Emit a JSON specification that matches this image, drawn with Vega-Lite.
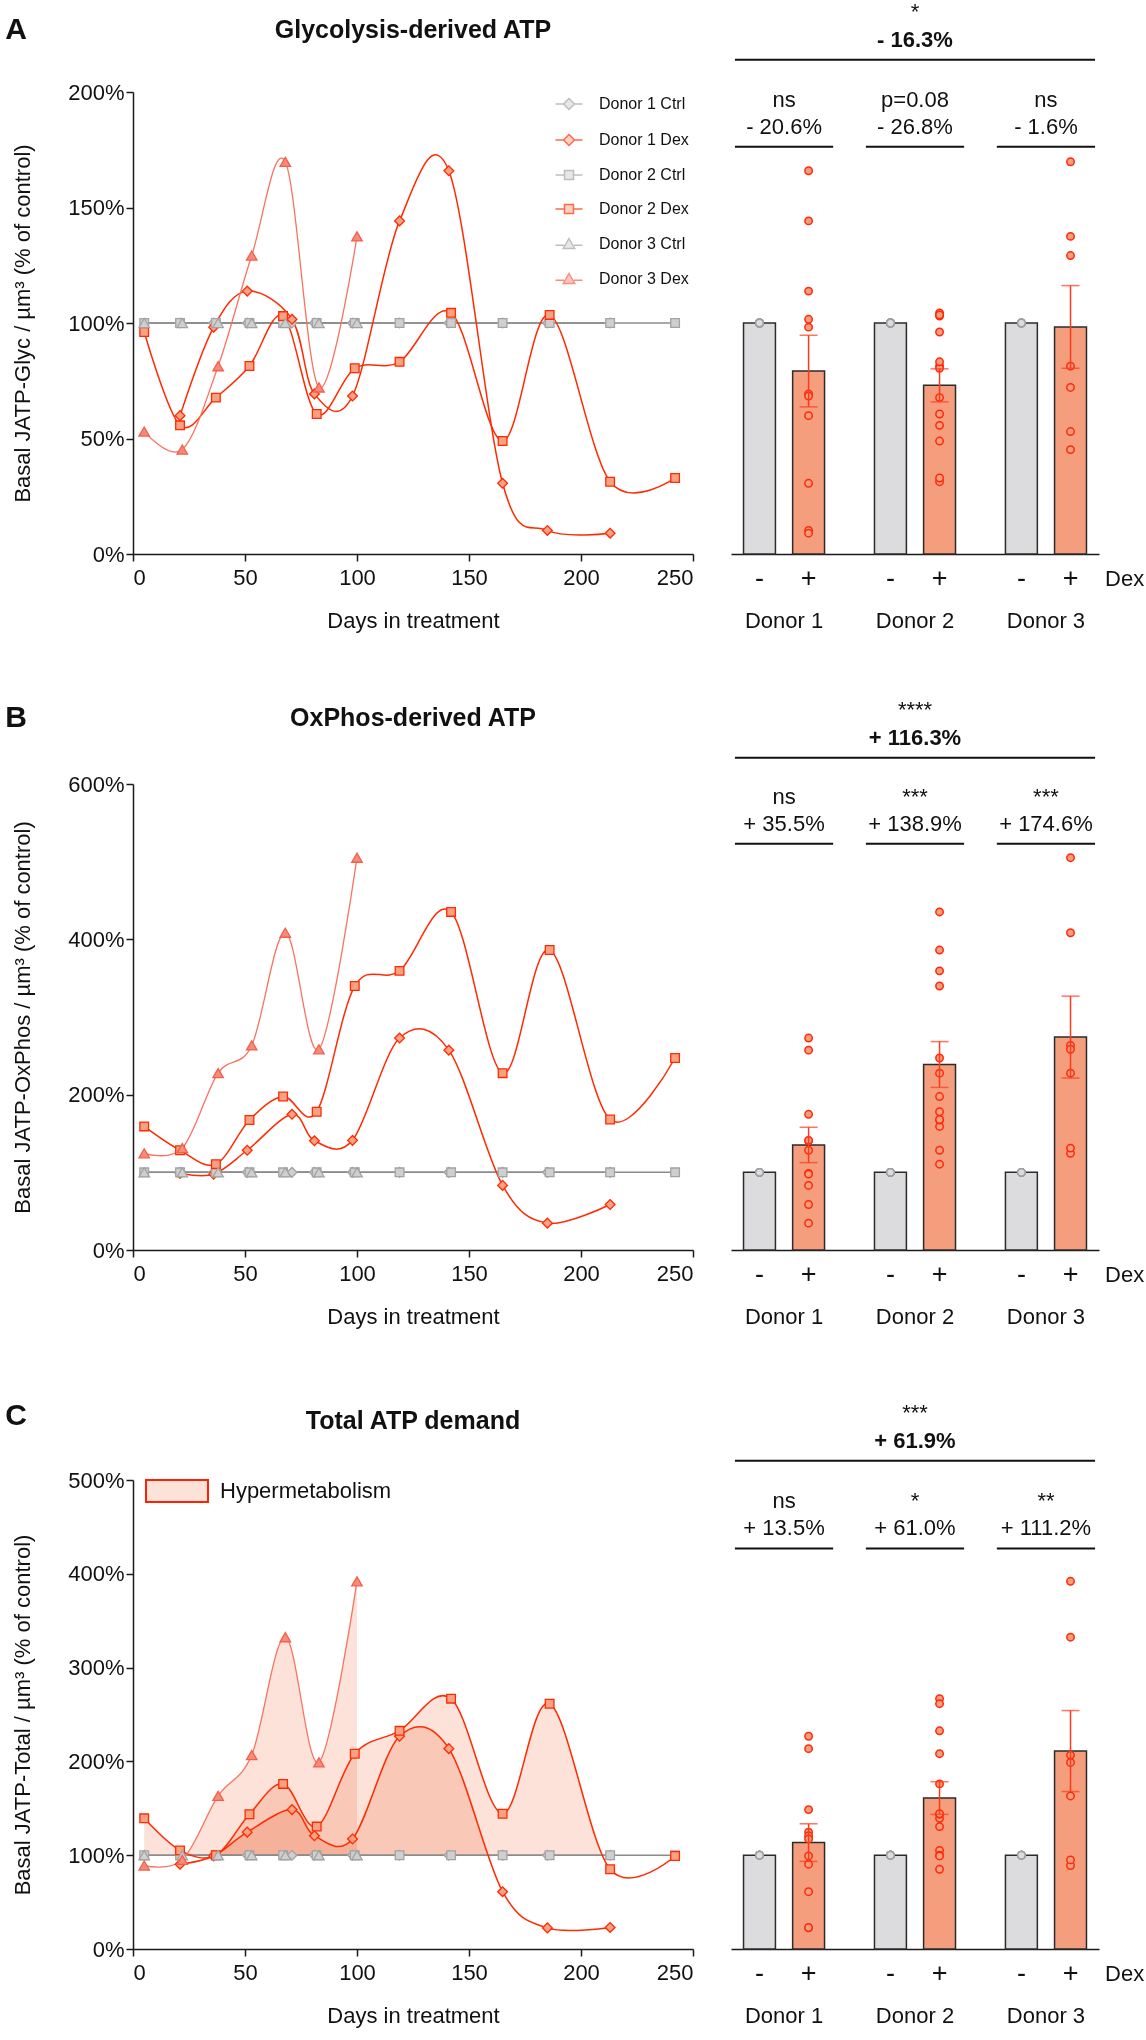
{
 "$schema": "https://vega.github.io/schema/vega-lite/v6.json",
 "background": "white",
 "padding": {"left": 5, "top": 0, "right": 0, "bottom": 5},
 "config": {
  "font": "Liberation Sans",
  "view": {"stroke": null},
  "axis": {"grid": false, "zindex": 1, "domainColor": "#1a1a1a", "domainWidth": 1.5, "tickColor": "#1a1a1a", "tickWidth": 1.5, "tickSize": 7, "labelFontSize": 22, "labelColor": "#111", "titleFontSize": 22, "titleFontWeight": "normal", "titleColor": "#111"},
  "text": {"color": "#111"},
  "legend": {"labelColor": "#111", "labelLimit": 400}
 },
 "datasets": {
  "pts": [
   {"p":"A","donor":"Donor 1","treat":"Ctrl","series":"Donor 1 Ctrl","day":21,"value":100},
   {"p":"A","donor":"Donor 1","treat":"Ctrl","series":"Donor 1 Ctrl","day":36,"value":100},
   {"p":"A","donor":"Donor 1","treat":"Ctrl","series":"Donor 1 Ctrl","day":51,"value":100},
   {"p":"A","donor":"Donor 1","treat":"Ctrl","series":"Donor 1 Ctrl","day":71,"value":100},
   {"p":"A","donor":"Donor 1","treat":"Ctrl","series":"Donor 1 Ctrl","day":81,"value":100},
   {"p":"A","donor":"Donor 1","treat":"Ctrl","series":"Donor 1 Ctrl","day":98,"value":100},
   {"p":"A","donor":"Donor 1","treat":"Ctrl","series":"Donor 1 Ctrl","day":119,"value":100},
   {"p":"A","donor":"Donor 1","treat":"Ctrl","series":"Donor 1 Ctrl","day":141,"value":100},
   {"p":"A","donor":"Donor 1","treat":"Ctrl","series":"Donor 1 Ctrl","day":165,"value":100},
   {"p":"A","donor":"Donor 1","treat":"Ctrl","series":"Donor 1 Ctrl","day":185,"value":100},
   {"p":"A","donor":"Donor 1","treat":"Ctrl","series":"Donor 1 Ctrl","day":213,"value":100},
   {"p":"A","donor":"Donor 2","treat":"Ctrl","series":"Donor 2 Ctrl","day":5,"value":100},
   {"p":"A","donor":"Donor 2","treat":"Ctrl","series":"Donor 2 Ctrl","day":21,"value":100},
   {"p":"A","donor":"Donor 2","treat":"Ctrl","series":"Donor 2 Ctrl","day":37,"value":100},
   {"p":"A","donor":"Donor 2","treat":"Ctrl","series":"Donor 2 Ctrl","day":52,"value":100},
   {"p":"A","donor":"Donor 2","treat":"Ctrl","series":"Donor 2 Ctrl","day":67,"value":100},
   {"p":"A","donor":"Donor 2","treat":"Ctrl","series":"Donor 2 Ctrl","day":82,"value":100},
   {"p":"A","donor":"Donor 2","treat":"Ctrl","series":"Donor 2 Ctrl","day":99,"value":100},
   {"p":"A","donor":"Donor 2","treat":"Ctrl","series":"Donor 2 Ctrl","day":119,"value":100},
   {"p":"A","donor":"Donor 2","treat":"Ctrl","series":"Donor 2 Ctrl","day":142,"value":100},
   {"p":"A","donor":"Donor 2","treat":"Ctrl","series":"Donor 2 Ctrl","day":165,"value":100},
   {"p":"A","donor":"Donor 2","treat":"Ctrl","series":"Donor 2 Ctrl","day":186,"value":100},
   {"p":"A","donor":"Donor 2","treat":"Ctrl","series":"Donor 2 Ctrl","day":213,"value":100},
   {"p":"A","donor":"Donor 2","treat":"Ctrl","series":"Donor 2 Ctrl","day":242,"value":100},
   {"p":"A","donor":"Donor 3","treat":"Ctrl","series":"Donor 3 Ctrl","day":5,"value":100},
   {"p":"A","donor":"Donor 3","treat":"Ctrl","series":"Donor 3 Ctrl","day":22,"value":100},
   {"p":"A","donor":"Donor 3","treat":"Ctrl","series":"Donor 3 Ctrl","day":38,"value":100},
   {"p":"A","donor":"Donor 3","treat":"Ctrl","series":"Donor 3 Ctrl","day":53,"value":100},
   {"p":"A","donor":"Donor 3","treat":"Ctrl","series":"Donor 3 Ctrl","day":68,"value":100},
   {"p":"A","donor":"Donor 3","treat":"Ctrl","series":"Donor 3 Ctrl","day":83,"value":100},
   {"p":"A","donor":"Donor 3","treat":"Ctrl","series":"Donor 3 Ctrl","day":100,"value":100},
   {"p":"A","donor":"Donor 1","treat":"Dex","series":"Donor 1 Dex","day":21,"value":59.9},
   {"p":"A","donor":"Donor 1","treat":"Dex","series":"Donor 1 Dex","day":36,"value":98.2},
   {"p":"A","donor":"Donor 1","treat":"Dex","series":"Donor 1 Dex","day":51,"value":113.8},
   {"p":"A","donor":"Donor 1","treat":"Dex","series":"Donor 1 Dex","day":71,"value":101.6},
   {"p":"A","donor":"Donor 1","treat":"Dex","series":"Donor 1 Dex","day":81,"value":69.3},
   {"p":"A","donor":"Donor 1","treat":"Dex","series":"Donor 1 Dex","day":98,"value":68.4},
   {"p":"A","donor":"Donor 1","treat":"Dex","series":"Donor 1 Dex","day":119,"value":144.2},
   {"p":"A","donor":"Donor 1","treat":"Dex","series":"Donor 1 Dex","day":141,"value":165.9},
   {"p":"A","donor":"Donor 1","treat":"Dex","series":"Donor 1 Dex","day":165,"value":30.6},
   {"p":"A","donor":"Donor 1","treat":"Dex","series":"Donor 1 Dex","day":185,"value":10.2},
   {"p":"A","donor":"Donor 1","treat":"Dex","series":"Donor 1 Dex","day":213,"value":9.0},
   {"p":"A","donor":"Donor 2","treat":"Dex","series":"Donor 2 Dex","day":5,"value":96.1},
   {"p":"A","donor":"Donor 2","treat":"Dex","series":"Donor 2 Dex","day":21,"value":55.7},
   {"p":"A","donor":"Donor 2","treat":"Dex","series":"Donor 2 Dex","day":37,"value":67.7},
   {"p":"A","donor":"Donor 2","treat":"Dex","series":"Donor 2 Dex","day":52,"value":81.4},
   {"p":"A","donor":"Donor 2","treat":"Dex","series":"Donor 2 Dex","day":67,"value":103},
   {"p":"A","donor":"Donor 2","treat":"Dex","series":"Donor 2 Dex","day":82,"value":60.6},
   {"p":"A","donor":"Donor 2","treat":"Dex","series":"Donor 2 Dex","day":99,"value":80.4},
   {"p":"A","donor":"Donor 2","treat":"Dex","series":"Donor 2 Dex","day":119,"value":83.2},
   {"p":"A","donor":"Donor 2","treat":"Dex","series":"Donor 2 Dex","day":142,"value":104.4},
   {"p":"A","donor":"Donor 2","treat":"Dex","series":"Donor 2 Dex","day":165,"value":48.9},
   {"p":"A","donor":"Donor 2","treat":"Dex","series":"Donor 2 Dex","day":186,"value":103.5},
   {"p":"A","donor":"Donor 2","treat":"Dex","series":"Donor 2 Dex","day":213,"value":31.3},
   {"p":"A","donor":"Donor 2","treat":"Dex","series":"Donor 2 Dex","day":242,"value":32.9},
   {"p":"A","donor":"Donor 3","treat":"Dex","series":"Donor 3 Dex","day":5,"value":53},
   {"p":"A","donor":"Donor 3","treat":"Dex","series":"Donor 3 Dex","day":22,"value":45.2},
   {"p":"A","donor":"Donor 3","treat":"Dex","series":"Donor 3 Dex","day":38,"value":81.3},
   {"p":"A","donor":"Donor 3","treat":"Dex","series":"Donor 3 Dex","day":53,"value":129.2},
   {"p":"A","donor":"Donor 3","treat":"Dex","series":"Donor 3 Dex","day":68,"value":169.8},
   {"p":"A","donor":"Donor 3","treat":"Dex","series":"Donor 3 Dex","day":83,"value":72.1},
   {"p":"A","donor":"Donor 3","treat":"Dex","series":"Donor 3 Dex","day":100,"value":137.5},

   {"p":"B","donor":"Donor 1","treat":"Ctrl","series":"Donor 1 Ctrl","day":21,"value":100},
   {"p":"B","donor":"Donor 1","treat":"Ctrl","series":"Donor 1 Ctrl","day":36,"value":100},
   {"p":"B","donor":"Donor 1","treat":"Ctrl","series":"Donor 1 Ctrl","day":51,"value":100},
   {"p":"B","donor":"Donor 1","treat":"Ctrl","series":"Donor 1 Ctrl","day":71,"value":100},
   {"p":"B","donor":"Donor 1","treat":"Ctrl","series":"Donor 1 Ctrl","day":81,"value":100},
   {"p":"B","donor":"Donor 1","treat":"Ctrl","series":"Donor 1 Ctrl","day":98,"value":100},
   {"p":"B","donor":"Donor 1","treat":"Ctrl","series":"Donor 1 Ctrl","day":119,"value":100},
   {"p":"B","donor":"Donor 1","treat":"Ctrl","series":"Donor 1 Ctrl","day":141,"value":100},
   {"p":"B","donor":"Donor 1","treat":"Ctrl","series":"Donor 1 Ctrl","day":165,"value":100},
   {"p":"B","donor":"Donor 1","treat":"Ctrl","series":"Donor 1 Ctrl","day":185,"value":100},
   {"p":"B","donor":"Donor 1","treat":"Ctrl","series":"Donor 1 Ctrl","day":213,"value":100},
   {"p":"B","donor":"Donor 2","treat":"Ctrl","series":"Donor 2 Ctrl","day":5,"value":100},
   {"p":"B","donor":"Donor 2","treat":"Ctrl","series":"Donor 2 Ctrl","day":21,"value":100},
   {"p":"B","donor":"Donor 2","treat":"Ctrl","series":"Donor 2 Ctrl","day":37,"value":100},
   {"p":"B","donor":"Donor 2","treat":"Ctrl","series":"Donor 2 Ctrl","day":52,"value":100},
   {"p":"B","donor":"Donor 2","treat":"Ctrl","series":"Donor 2 Ctrl","day":67,"value":100},
   {"p":"B","donor":"Donor 2","treat":"Ctrl","series":"Donor 2 Ctrl","day":82,"value":100},
   {"p":"B","donor":"Donor 2","treat":"Ctrl","series":"Donor 2 Ctrl","day":99,"value":100},
   {"p":"B","donor":"Donor 2","treat":"Ctrl","series":"Donor 2 Ctrl","day":119,"value":100},
   {"p":"B","donor":"Donor 2","treat":"Ctrl","series":"Donor 2 Ctrl","day":142,"value":100},
   {"p":"B","donor":"Donor 2","treat":"Ctrl","series":"Donor 2 Ctrl","day":165,"value":100},
   {"p":"B","donor":"Donor 2","treat":"Ctrl","series":"Donor 2 Ctrl","day":186,"value":100},
   {"p":"B","donor":"Donor 2","treat":"Ctrl","series":"Donor 2 Ctrl","day":213,"value":100},
   {"p":"B","donor":"Donor 2","treat":"Ctrl","series":"Donor 2 Ctrl","day":242,"value":100},
   {"p":"B","donor":"Donor 3","treat":"Ctrl","series":"Donor 3 Ctrl","day":5,"value":100},
   {"p":"B","donor":"Donor 3","treat":"Ctrl","series":"Donor 3 Ctrl","day":22,"value":100},
   {"p":"B","donor":"Donor 3","treat":"Ctrl","series":"Donor 3 Ctrl","day":38,"value":100},
   {"p":"B","donor":"Donor 3","treat":"Ctrl","series":"Donor 3 Ctrl","day":53,"value":100},
   {"p":"B","donor":"Donor 3","treat":"Ctrl","series":"Donor 3 Ctrl","day":68,"value":100},
   {"p":"B","donor":"Donor 3","treat":"Ctrl","series":"Donor 3 Ctrl","day":83,"value":100},
   {"p":"B","donor":"Donor 3","treat":"Ctrl","series":"Donor 3 Ctrl","day":100,"value":100},
   {"p":"B","donor":"Donor 1","treat":"Dex","series":"Donor 1 Dex","day":21,"value":98.7},
   {"p":"B","donor":"Donor 1","treat":"Dex","series":"Donor 1 Dex","day":36,"value":97.7},
   {"p":"B","donor":"Donor 1","treat":"Dex","series":"Donor 1 Dex","day":51,"value":128.4},
   {"p":"B","donor":"Donor 1","treat":"Dex","series":"Donor 1 Dex","day":71,"value":174.7},
   {"p":"B","donor":"Donor 1","treat":"Dex","series":"Donor 1 Dex","day":81,"value":140.6},
   {"p":"B","donor":"Donor 1","treat":"Dex","series":"Donor 1 Dex","day":98,"value":141.2},
   {"p":"B","donor":"Donor 1","treat":"Dex","series":"Donor 1 Dex","day":119,"value":272.9},
   {"p":"B","donor":"Donor 1","treat":"Dex","series":"Donor 1 Dex","day":141,"value":257.3},
   {"p":"B","donor":"Donor 1","treat":"Dex","series":"Donor 1 Dex","day":165,"value":83.2},
   {"p":"B","donor":"Donor 1","treat":"Dex","series":"Donor 1 Dex","day":185,"value":34.6},
   {"p":"B","donor":"Donor 1","treat":"Dex","series":"Donor 1 Dex","day":213,"value":58.6},
   {"p":"B","donor":"Donor 2","treat":"Dex","series":"Donor 2 Dex","day":5,"value":159.1},
   {"p":"B","donor":"Donor 2","treat":"Dex","series":"Donor 2 Dex","day":21,"value":128.4},
   {"p":"B","donor":"Donor 2","treat":"Dex","series":"Donor 2 Dex","day":37,"value":110.5},
   {"p":"B","donor":"Donor 2","treat":"Dex","series":"Donor 2 Dex","day":52,"value":167.4},
   {"p":"B","donor":"Donor 2","treat":"Dex","series":"Donor 2 Dex","day":67,"value":197.6},
   {"p":"B","donor":"Donor 2","treat":"Dex","series":"Donor 2 Dex","day":82,"value":178},
   {"p":"B","donor":"Donor 2","treat":"Dex","series":"Donor 2 Dex","day":99,"value":339.9},
   {"p":"B","donor":"Donor 2","treat":"Dex","series":"Donor 2 Dex","day":119,"value":359.4},
   {"p":"B","donor":"Donor 2","treat":"Dex","series":"Donor 2 Dex","day":142,"value":435.3},
   {"p":"B","donor":"Donor 2","treat":"Dex","series":"Donor 2 Dex","day":165,"value":227.7},
   {"p":"B","donor":"Donor 2","treat":"Dex","series":"Donor 2 Dex","day":186,"value":386.2},
   {"p":"B","donor":"Donor 2","treat":"Dex","series":"Donor 2 Dex","day":213,"value":168},
   {"p":"B","donor":"Donor 2","treat":"Dex","series":"Donor 2 Dex","day":242,"value":247.2},
   {"p":"B","donor":"Donor 3","treat":"Dex","series":"Donor 3 Dex","day":5,"value":124.5},
   {"p":"B","donor":"Donor 3","treat":"Dex","series":"Donor 3 Dex","day":22,"value":131.2},
   {"p":"B","donor":"Donor 3","treat":"Dex","series":"Donor 3 Dex","day":38,"value":227.7},
   {"p":"B","donor":"Donor 3","treat":"Dex","series":"Donor 3 Dex","day":53,"value":263.4},
   {"p":"B","donor":"Donor 3","treat":"Dex","series":"Donor 3 Dex","day":68,"value":408.5},
   {"p":"B","donor":"Donor 3","treat":"Dex","series":"Donor 3 Dex","day":83,"value":258.4},
   {"p":"B","donor":"Donor 3","treat":"Dex","series":"Donor 3 Dex","day":100,"value":505.1},

   {"p":"C","donor":"Donor 1","treat":"Ctrl","series":"Donor 1 Ctrl","day":21,"value":100},
   {"p":"C","donor":"Donor 1","treat":"Ctrl","series":"Donor 1 Ctrl","day":36,"value":100},
   {"p":"C","donor":"Donor 1","treat":"Ctrl","series":"Donor 1 Ctrl","day":51,"value":100},
   {"p":"C","donor":"Donor 1","treat":"Ctrl","series":"Donor 1 Ctrl","day":71,"value":100},
   {"p":"C","donor":"Donor 1","treat":"Ctrl","series":"Donor 1 Ctrl","day":81,"value":100},
   {"p":"C","donor":"Donor 1","treat":"Ctrl","series":"Donor 1 Ctrl","day":98,"value":100},
   {"p":"C","donor":"Donor 1","treat":"Ctrl","series":"Donor 1 Ctrl","day":119,"value":100},
   {"p":"C","donor":"Donor 1","treat":"Ctrl","series":"Donor 1 Ctrl","day":141,"value":100},
   {"p":"C","donor":"Donor 1","treat":"Ctrl","series":"Donor 1 Ctrl","day":165,"value":100},
   {"p":"C","donor":"Donor 1","treat":"Ctrl","series":"Donor 1 Ctrl","day":185,"value":100},
   {"p":"C","donor":"Donor 1","treat":"Ctrl","series":"Donor 1 Ctrl","day":213,"value":100},
   {"p":"C","donor":"Donor 2","treat":"Ctrl","series":"Donor 2 Ctrl","day":5,"value":100},
   {"p":"C","donor":"Donor 2","treat":"Ctrl","series":"Donor 2 Ctrl","day":21,"value":100},
   {"p":"C","donor":"Donor 2","treat":"Ctrl","series":"Donor 2 Ctrl","day":37,"value":100},
   {"p":"C","donor":"Donor 2","treat":"Ctrl","series":"Donor 2 Ctrl","day":52,"value":100},
   {"p":"C","donor":"Donor 2","treat":"Ctrl","series":"Donor 2 Ctrl","day":67,"value":100},
   {"p":"C","donor":"Donor 2","treat":"Ctrl","series":"Donor 2 Ctrl","day":82,"value":100},
   {"p":"C","donor":"Donor 2","treat":"Ctrl","series":"Donor 2 Ctrl","day":99,"value":100},
   {"p":"C","donor":"Donor 2","treat":"Ctrl","series":"Donor 2 Ctrl","day":119,"value":100},
   {"p":"C","donor":"Donor 2","treat":"Ctrl","series":"Donor 2 Ctrl","day":142,"value":100},
   {"p":"C","donor":"Donor 2","treat":"Ctrl","series":"Donor 2 Ctrl","day":165,"value":100},
   {"p":"C","donor":"Donor 2","treat":"Ctrl","series":"Donor 2 Ctrl","day":186,"value":100},
   {"p":"C","donor":"Donor 2","treat":"Ctrl","series":"Donor 2 Ctrl","day":213,"value":100},
   {"p":"C","donor":"Donor 2","treat":"Ctrl","series":"Donor 2 Ctrl","day":242,"value":100},
   {"p":"C","donor":"Donor 3","treat":"Ctrl","series":"Donor 3 Ctrl","day":5,"value":100},
   {"p":"C","donor":"Donor 3","treat":"Ctrl","series":"Donor 3 Ctrl","day":22,"value":100},
   {"p":"C","donor":"Donor 3","treat":"Ctrl","series":"Donor 3 Ctrl","day":38,"value":100},
   {"p":"C","donor":"Donor 3","treat":"Ctrl","series":"Donor 3 Ctrl","day":53,"value":100},
   {"p":"C","donor":"Donor 3","treat":"Ctrl","series":"Donor 3 Ctrl","day":68,"value":100},
   {"p":"C","donor":"Donor 3","treat":"Ctrl","series":"Donor 3 Ctrl","day":83,"value":100},
   {"p":"C","donor":"Donor 3","treat":"Ctrl","series":"Donor 3 Ctrl","day":100,"value":100},
   {"p":"C","donor":"Donor 1","treat":"Dex","series":"Donor 1 Dex","day":21,"value":90.4},
   {"p":"C","donor":"Donor 1","treat":"Dex","series":"Donor 1 Dex","day":36,"value":99.2},
   {"p":"C","donor":"Donor 1","treat":"Dex","series":"Donor 1 Dex","day":51,"value":124.6},
   {"p":"C","donor":"Donor 1","treat":"Dex","series":"Donor 1 Dex","day":71,"value":148.6},
   {"p":"C","donor":"Donor 1","treat":"Dex","series":"Donor 1 Dex","day":81,"value":120.7},
   {"p":"C","donor":"Donor 1","treat":"Dex","series":"Donor 1 Dex","day":98,"value":117.3},
   {"p":"C","donor":"Donor 1","treat":"Dex","series":"Donor 1 Dex","day":119,"value":226.8},
   {"p":"C","donor":"Donor 1","treat":"Dex","series":"Donor 1 Dex","day":141,"value":213.6},
   {"p":"C","donor":"Donor 1","treat":"Dex","series":"Donor 1 Dex","day":165,"value":61.1},
   {"p":"C","donor":"Donor 1","treat":"Dex","series":"Donor 1 Dex","day":185,"value":22.5},
   {"p":"C","donor":"Donor 1","treat":"Dex","series":"Donor 1 Dex","day":213,"value":23},
   {"p":"C","donor":"Donor 2","treat":"Dex","series":"Donor 2 Dex","day":5,"value":139.3},
   {"p":"C","donor":"Donor 2","treat":"Dex","series":"Donor 2 Dex","day":21,"value":105.1},
   {"p":"C","donor":"Donor 2","treat":"Dex","series":"Donor 2 Dex","day":37,"value":100},
   {"p":"C","donor":"Donor 2","treat":"Dex","series":"Donor 2 Dex","day":52,"value":143.7},
   {"p":"C","donor":"Donor 2","treat":"Dex","series":"Donor 2 Dex","day":67,"value":176},
   {"p":"C","donor":"Donor 2","treat":"Dex","series":"Donor 2 Dex","day":82,"value":130.5},
   {"p":"C","donor":"Donor 2","treat":"Dex","series":"Donor 2 Dex","day":99,"value":208.2},
   {"p":"C","donor":"Donor 2","treat":"Dex","series":"Donor 2 Dex","day":119,"value":232.6},
   {"p":"C","donor":"Donor 2","treat":"Dex","series":"Donor 2 Dex","day":142,"value":266.9},
   {"p":"C","donor":"Donor 2","treat":"Dex","series":"Donor 2 Dex","day":165,"value":144.2},
   {"p":"C","donor":"Donor 2","treat":"Dex","series":"Donor 2 Dex","day":186,"value":261.5},
   {"p":"C","donor":"Donor 2","treat":"Dex","series":"Donor 2 Dex","day":213,"value":85},
   {"p":"C","donor":"Donor 2","treat":"Dex","series":"Donor 2 Dex","day":242,"value":99.2},
   {"p":"C","donor":"Donor 3","treat":"Dex","series":"Donor 3 Dex","day":5,"value":89},
   {"p":"C","donor":"Donor 3","treat":"Dex","series":"Donor 3 Dex","day":22,"value":95},
   {"p":"C","donor":"Donor 3","treat":"Dex","series":"Donor 3 Dex","day":38,"value":163.2},
   {"p":"C","donor":"Donor 3","treat":"Dex","series":"Donor 3 Dex","day":53,"value":206.7},
   {"p":"C","donor":"Donor 3","treat":"Dex","series":"Donor 3 Dex","day":68,"value":332.4},
   {"p":"C","donor":"Donor 3","treat":"Dex","series":"Donor 3 Dex","day":83,"value":198.9},
   {"p":"C","donor":"Donor 3","treat":"Dex","series":"Donor 3 Dex","day":100,"value":392}
  ],
  "panels": [
   {"p":"A","letter":"A","title":"Glycolysis-derived ATP"},
   {"p":"B","letter":"B","title":"OxPhos-derived ATP"},
   {"p":"C","letter":"C","title":"Total ATP demand"}
  ],
  "ann": [
   {"p":"A","donor":"Donor 1","sig":"ns","pct":"- 20.6%"},
   {"p":"A","donor":"Donor 2","sig":"p=0.08","pct":"- 26.8%"},
   {"p":"A","donor":"Donor 3","sig":"ns","pct":"- 1.6%"},
   {"p":"B","donor":"Donor 1","sig":"ns","pct":"+ 35.5%"},
   {"p":"B","donor":"Donor 2","sig":"***","pct":"+ 138.9%"},
   {"p":"B","donor":"Donor 3","sig":"***","pct":"+ 174.6%"},
   {"p":"C","donor":"Donor 1","sig":"ns","pct":"+ 13.5%"},
   {"p":"C","donor":"Donor 2","sig":"*","pct":"+ 61.0%"},
   {"p":"C","donor":"Donor 3","sig":"**","pct":"+ 111.2%"}
  ],
  "tot": [
   {"p":"A","sig":"*","pct":"- 16.3%"},
   {"p":"B","sig":"****","pct":"+ 116.3%"},
   {"p":"C","sig":"***","pct":"+ 61.9%"}
  ],
  "signs": [
   {"donor":"Donor 1","treat":"Ctrl","sign":"-"},
   {"donor":"Donor 1","treat":"Dex","sign":"+"},
   {"donor":"Donor 2","treat":"Ctrl","sign":"-"},
   {"donor":"Donor 2","treat":"Dex","sign":"+"},
   {"donor":"Donor 3","treat":"Ctrl","sign":"-"},
   {"donor":"Donor 3","treat":"Dex","sign":"+"}
  ]
 },
 "columns": 2,
 "align": "each",
 "bounds": "flush",
 "spacing": {"row": 230, "column": 38},
 "resolve": {
  "scale": {"x": "independent", "y": "independent", "xOffset": "independent", "color": "independent", "fill": "independent", "stroke": "independent", "shape": "independent"},
  "legend": {"color": "independent", "fill": "independent", "stroke": "independent", "shape": "independent"}
 },
 "concat": [
  {
   "width": 560, "height": 462,
   "layer": [
    {
     "data": {"name": "pts"},
     "transform": [{"filter": "datum.p == 'A'"}],
     "encoding": {
      "x": {"field": "day", "type": "quantitative", "scale": {"domain": [0, 250]}, "axis": {"values": [0,50,100,150,200,250], "title": "Days in treatment", "labelPadding": 6, "titlePadding": 22}},
      "y": {"field": "value", "type": "quantitative", "scale": {"domain": [0, 200]}, "axis": {"values": [0,50,100,150,200], "labelExpr": "datum.value + '%'", "title": "Basal JATP-Glyc / µm³ (% of control)", "titlePadding": 33}}
     },
     "layer": [
      {"transform": [{"filter": "datum.treat == 'Ctrl'"}], "mark": {"type": "line", "strokeWidth": 1.5, "color": "#8c8c8c"}, "encoding": {"detail": {"field": "donor", "type": "nominal"}}},
      {"transform": [{"filter": "datum.treat == 'Dex' && datum.donor != 'Donor 3'"}], "mark": {"type": "line", "strokeWidth": 1.5, "interpolate": "cardinal", "tension": 0, "color": "#ff2a00"}, "encoding": {"detail": {"field": "donor", "type": "nominal"}}},
      {"transform": [{"filter": "datum.treat == 'Dex' && datum.donor == 'Donor 3'"}], "mark": {"type": "line", "strokeWidth": 1.3, "interpolate": "cardinal", "tension": 0, "color": "#f7735f"}, "encoding": {}},
      {"transform": [{"filter": "false"}], "mark": {"type": "point", "filled": true, "strokeWidth": 1.5},
       "encoding": {
        "shape": {"field": "series", "type": "nominal", "scale": {"domain": ["Donor 1 Ctrl","Donor 1 Dex","Donor 2 Ctrl","Donor 2 Dex","Donor 3 Ctrl","Donor 3 Dex"], "range": ["M-2.7,0H-1.1M1.1,0H2.7M0,-1.1L1.1,0L0,1.1L-1.1,0Z","M-2.7,0H-1.1M1.1,0H2.7M0,-1.1L1.1,0L0,1.1L-1.1,0Z","M-2.7,0H-0.9M0.9,0H2.7M-0.9,-0.9H0.9V0.9H-0.9Z","M-2.7,0H-0.9M0.9,0H2.7M-0.9,-0.9H0.9V0.9H-0.9Z","M-2.7,0.25H-1.0M1.0,0.25H2.7M0,-1.1L1.15,0.9H-1.15Z","M-2.7,0.25H-1.0M1.0,0.25H2.7M0,-1.1L1.15,0.9H-1.15Z"]},
          "legend": {"title": null, "orient": "top-right", "offset": 4, "padding": 0, "labelFontSize": 16, "labelOffset": 22, "rowPadding": 18, "symbolSize": 100, "symbolStrokeWidth": 1.5}},
        "fill": {"field": "series", "type": "nominal", "scale": {"domain": ["Donor 1 Ctrl","Donor 1 Dex","Donor 2 Ctrl","Donor 2 Dex","Donor 3 Ctrl","Donor 3 Dex"], "range": ["#cfcfcf","#f9a283","#cfcfcf","#f9a283","#cfcfcf","#f78a78"]},
          "legend": {"title": null, "orient": "top-right", "offset": 4, "padding": 0, "labelFontSize": 16, "labelOffset": 22, "rowPadding": 18, "symbolSize": 100, "symbolStrokeWidth": 1.5}},
        "stroke": {"field": "series", "type": "nominal", "scale": {"domain": ["Donor 1 Ctrl","Donor 1 Dex","Donor 2 Ctrl","Donor 2 Dex","Donor 3 Ctrl","Donor 3 Dex"], "range": ["#a3a3a3","#ff2a00","#a3a3a3","#ff2a00","#a3a3a3","#f2604c"]},
          "legend": {"title": null, "orient": "top-right", "offset": 4, "padding": 0, "labelFontSize": 16, "labelOffset": 22, "rowPadding": 18, "symbolSize": 100, "symbolStrokeWidth": 1.5}}
       }},
      {"transform": [{"filter": "datum.donor == 'Donor 1'"}], "mark": {"type": "point", "shape": "diamond", "filled": true, "size": 95, "strokeWidth": 1.3, "opacity": 1},
       "encoding": {
        "fill": {"field": "series", "type": "nominal", "scale": {"domain": ["Donor 1 Ctrl","Donor 1 Dex","Donor 2 Ctrl","Donor 2 Dex","Donor 3 Ctrl","Donor 3 Dex"], "range": ["#cfcfcf","#f9a283","#cfcfcf","#f9a283","#cfcfcf","#f78a78"]},
          "legend": {"title": null, "orient": "top-right", "offset": 4, "padding": 0, "labelFontSize": 16, "labelOffset": 22, "rowPadding": 18, "symbolSize": 100, "symbolStrokeWidth": 1.5}},
        "stroke": {"field": "series", "type": "nominal", "scale": {"domain": ["Donor 1 Ctrl","Donor 1 Dex","Donor 2 Ctrl","Donor 2 Dex","Donor 3 Ctrl","Donor 3 Dex"], "range": ["#a3a3a3","#ff2a00","#a3a3a3","#ff2a00","#a3a3a3","#f2604c"]},
          "legend": {"title": null, "orient": "top-right", "offset": 4, "padding": 0, "labelFontSize": 16, "labelOffset": 22, "rowPadding": 18, "symbolSize": 100, "symbolStrokeWidth": 1.5}}
       }},
      {"transform": [{"filter": "datum.donor == 'Donor 2'"}], "mark": {"type": "point", "shape": "square", "filled": true, "size": 75, "strokeWidth": 1.3, "opacity": 1},
       "encoding": {
        "fill": {"field": "series", "type": "nominal", "scale": {"domain": ["Donor 1 Ctrl","Donor 1 Dex","Donor 2 Ctrl","Donor 2 Dex","Donor 3 Ctrl","Donor 3 Dex"], "range": ["#cfcfcf","#f9a283","#cfcfcf","#f9a283","#cfcfcf","#f78a78"]},
          "legend": {"title": null, "orient": "top-right", "offset": 4, "padding": 0, "labelFontSize": 16, "labelOffset": 22, "rowPadding": 18, "symbolSize": 100, "symbolStrokeWidth": 1.5}},
        "stroke": {"field": "series", "type": "nominal", "scale": {"domain": ["Donor 1 Ctrl","Donor 1 Dex","Donor 2 Ctrl","Donor 2 Dex","Donor 3 Ctrl","Donor 3 Dex"], "range": ["#a3a3a3","#ff2a00","#a3a3a3","#ff2a00","#a3a3a3","#f2604c"]},
          "legend": {"title": null, "orient": "top-right", "offset": 4, "padding": 0, "labelFontSize": 16, "labelOffset": 22, "rowPadding": 18, "symbolSize": 100, "symbolStrokeWidth": 1.5}}
       }},
      {"transform": [{"filter": "datum.donor == 'Donor 3'"}], "mark": {"type": "point", "shape": "triangle-up", "filled": true, "size": 110, "strokeWidth": 1.3, "opacity": 1},
       "encoding": {
        "fill": {"field": "series", "type": "nominal", "scale": {"domain": ["Donor 1 Ctrl","Donor 1 Dex","Donor 2 Ctrl","Donor 2 Dex","Donor 3 Ctrl","Donor 3 Dex"], "range": ["#cfcfcf","#f9a283","#cfcfcf","#f9a283","#cfcfcf","#f78a78"]},
          "legend": {"title": null, "orient": "top-right", "offset": 4, "padding": 0, "labelFontSize": 16, "labelOffset": 22, "rowPadding": 18, "symbolSize": 100, "symbolStrokeWidth": 1.5}},
        "stroke": {"field": "series", "type": "nominal", "scale": {"domain": ["Donor 1 Ctrl","Donor 1 Dex","Donor 2 Ctrl","Donor 2 Dex","Donor 3 Ctrl","Donor 3 Dex"], "range": ["#a3a3a3","#ff2a00","#a3a3a3","#ff2a00","#a3a3a3","#f2604c"]},
          "legend": {"title": null, "orient": "top-right", "offset": 4, "padding": 0, "labelFontSize": 16, "labelOffset": 22, "rowPadding": 18, "symbolSize": 100, "symbolStrokeWidth": 1.5}}
       }}
     ]
    },
    {"data": {"name": "panels"}, "transform": [{"filter": "datum.p == 'A'"}],
     "layer": [
      {"mark": {"type": "text", "fontSize": 30, "fontWeight": "bold", "align": "left"}, "encoding": {"x": {"datum": -57, "type": "quantitative", "scale": {"domain": [0, 250]}, "axis": {"values": [0,50,100,150,200,250], "title": "Days in treatment", "labelPadding": 6, "titlePadding": 22}}, "y": {"datum": 227, "type": "quantitative", "scale": {"domain": [0, 200]}, "axis": {"values": [0,50,100,150,200], "labelExpr": "datum.value + '%'", "title": "Basal JATP-Glyc / µm³ (% of control)", "titlePadding": 33}}, "text": {"field": "letter"}}},
      {"mark": {"type": "text", "fontSize": 25, "fontWeight": "bold"}, "encoding": {"x": {"datum": 125, "type": "quantitative", "scale": {"domain": [0, 250]}, "axis": {"values": [0,50,100,150,200,250], "title": "Days in treatment", "labelPadding": 6, "titlePadding": 22}}, "y": {"datum": 227, "type": "quantitative", "scale": {"domain": [0, 200]}, "axis": {"values": [0,50,100,150,200], "labelExpr": "datum.value + '%'", "title": "Basal JATP-Glyc / µm³ (% of control)", "titlePadding": 33}}, "text": {"field": "title"}}}
     ]}
   ]
  },
  {
   "width": 368, "height": 462,
   "layer": [
    {
     "data": {"name": "pts"},
     "transform": [{"filter": "datum.p == 'A'"}],
     "encoding": {
      "x": {"field": "donor", "type": "nominal", "scale": {"domain": ["Donor 1","Donor 2","Donor 3"], "paddingInner": 0.25, "paddingOuter": 0.03}, "axis": {"title": null, "ticks": false, "tickSize": 0, "labelPadding": 56, "labelAngle": 0}},
      "xOffset": {"field": "treat", "type": "nominal", "scale": {"domain": ["Ctrl","Dex"], "paddingInner": 0.35, "paddingOuter": 0.175}}
     },
     "layer": [
      {"mark": {"type": "bar", "stroke": "#2b2b2b", "strokeWidth": 1.5},
       "encoding": {"y": {"aggregate": "mean", "field": "value", "type": "quantitative", "scale": {"domain": [0, 200]}, "axis": null},
        "fill": {"field": "treat", "type": "nominal", "scale": {"domain": ["Ctrl","Dex"], "range": ["#dcdcde","#f59e7e"]}, "legend": null}}},
      {"mark": {"type": "point", "shape": "circle", "filled": true, "size": 55, "strokeWidth": 1.5, "opacity": 1},
       "encoding": {"y": {"field": "value", "type": "quantitative", "scale": {"domain": [0, 200]}, "axis": null},
        "fill": {"field": "treat", "type": "nominal", "scale": {"domain": ["Ctrl","Dex"], "range": ["#dcdcde","#f59e7e"]}, "legend": null},
        "stroke": {"field": "treat", "type": "nominal", "scale": {"domain": ["Ctrl","Dex"], "range": ["#a0a0a0","#ff2a0a"]}, "legend": null}}},
      {"transform": [{"filter": "datum.treat == 'Dex'"}], "mark": {"type": "errorbar", "extent": "stderr", "ticks": {"size": 18}, "color": "#ff3a1a", "thickness": 1.5},
       "encoding": {"y": {"field": "value", "type": "quantitative", "scale": {"domain": [0, 200]}, "axis": null}}}
     ]
    },
    {"data": {"name": "ann"}, "transform": [{"filter": "datum.p == 'A'"}],
     "layer": [
      {"mark": {"type": "rule", "strokeWidth": 2, "color": "#111"}, "encoding": {"x": {"field": "donor", "type": "nominal", "bandPosition": 0, "scale": {"domain": ["Donor 1","Donor 2","Donor 3"]}, "axis": {"title": null, "ticks": false, "tickSize": 0, "labelPadding": 56, "labelAngle": 0}}, "x2": {"field": "donor", "bandPosition": 1}, "y": {"datum": 176.3, "type": "quantitative", "scale": {"domain": [0, 200]}, "axis": null}}},
      {"mark": {"type": "text", "fontSize": 22, "dy": -20}, "encoding": {"x": {"field": "donor", "type": "nominal", "scale": {"domain": ["Donor 1","Donor 2","Donor 3"]}, "axis": {"title": null, "ticks": false, "tickSize": 0, "labelPadding": 56, "labelAngle": 0}}, "y": {"datum": 176.3, "type": "quantitative", "scale": {"domain": [0, 200]}, "axis": null}, "text": {"field": "pct"}}},
      {"mark": {"type": "text", "fontSize": 22, "dy": -47}, "encoding": {"x": {"field": "donor", "type": "nominal", "scale": {"domain": ["Donor 1","Donor 2","Donor 3"]}, "axis": {"title": null, "ticks": false, "tickSize": 0, "labelPadding": 56, "labelAngle": 0}}, "y": {"datum": 176.3, "type": "quantitative", "scale": {"domain": [0, 200]}, "axis": null}, "text": {"field": "sig"}}}
     ]},
    {"data": {"name": "tot"}, "transform": [{"filter": "datum.p == 'A'"}],
     "layer": [
      {"mark": {"type": "rule", "strokeWidth": 2, "color": "#111"}, "encoding": {"x": {"datum": "Donor 1", "type": "nominal", "bandPosition": 0, "scale": {"domain": ["Donor 1","Donor 2","Donor 3"]}, "axis": {"title": null, "ticks": false, "tickSize": 0, "labelPadding": 56, "labelAngle": 0}}, "x2": {"datum": "Donor 3", "bandPosition": 1}, "y": {"datum": 214, "type": "quantitative", "scale": {"domain": [0, 200]}, "axis": null}}},
      {"mark": {"type": "text", "fontSize": 22, "fontWeight": "bold", "dy": -20}, "encoding": {"x": {"datum": "Donor 2", "type": "nominal", "scale": {"domain": ["Donor 1","Donor 2","Donor 3"]}, "axis": {"title": null, "ticks": false, "tickSize": 0, "labelPadding": 56, "labelAngle": 0}}, "y": {"datum": 214, "type": "quantitative", "scale": {"domain": [0, 200]}, "axis": null}, "text": {"field": "pct"}}},
      {"mark": {"type": "text", "fontSize": 22, "dy": -48}, "encoding": {"x": {"datum": "Donor 2", "type": "nominal", "scale": {"domain": ["Donor 1","Donor 2","Donor 3"]}, "axis": {"title": null, "ticks": false, "tickSize": 0, "labelPadding": 56, "labelAngle": 0}}, "y": {"datum": 214, "type": "quantitative", "scale": {"domain": [0, 200]}, "axis": null}, "text": {"field": "sig"}}}
     ]},
    {"data": {"name": "signs"}, "mark": {"type": "text", "fontSize": 27, "dy": 25},
     "encoding": {"x": {"field": "donor", "type": "nominal", "scale": {"domain": ["Donor 1","Donor 2","Donor 3"]}, "axis": {"title": null, "ticks": false, "tickSize": 0, "labelPadding": 56, "labelAngle": 0}}, "xOffset": {"field": "treat", "type": "nominal", "scale": {"domain": ["Ctrl","Dex"], "paddingInner": 0.35, "paddingOuter": 0.175}}, "y": {"datum": 0, "type": "quantitative", "scale": {"domain": [0, 200]}, "axis": null}, "text": {"field": "sign"}}},
    {"data": {"values": [{"label": "Dex"}]}, "mark": {"type": "text", "fontSize": 22, "align": "left", "dx": 10, "dy": 25},
     "encoding": {"x": {"datum": "Donor 3", "type": "nominal", "bandPosition": 1, "scale": {"domain": ["Donor 1","Donor 2","Donor 3"]}, "axis": {"title": null, "ticks": false, "tickSize": 0, "labelPadding": 56, "labelAngle": 0}}, "y": {"datum": 0, "type": "quantitative", "scale": {"domain": [0, 200]}, "axis": null}, "text": {"field": "label"}}}
   ]
  },
  {
   "width": 560, "height": 466,
   "layer": [
    {
     "data": {"name": "pts"},
     "transform": [{"filter": "datum.p == 'B'"}],
     "encoding": {
      "x": {"field": "day", "type": "quantitative", "scale": {"domain": [0, 250]}, "axis": {"values": [0,50,100,150,200,250], "title": "Days in treatment", "labelPadding": 6, "titlePadding": 22}},
      "y": {"field": "value", "type": "quantitative", "scale": {"domain": [0, 600]}, "axis": {"values": [0,200,400,600], "labelExpr": "datum.value + '%'", "title": "Basal JATP-OxPhos / µm³ (% of control)", "titlePadding": 33}}
     },
     "layer": [
      {"transform": [{"filter": "datum.treat == 'Ctrl'"}], "mark": {"type": "line", "strokeWidth": 1.5, "color": "#8c8c8c"}, "encoding": {"detail": {"field": "donor", "type": "nominal"}}},
      {"transform": [{"filter": "datum.treat == 'Dex' && datum.donor != 'Donor 3'"}], "mark": {"type": "line", "strokeWidth": 1.5, "interpolate": "cardinal", "tension": 0, "color": "#ff2a00"}, "encoding": {"detail": {"field": "donor", "type": "nominal"}}},
      {"transform": [{"filter": "datum.treat == 'Dex' && datum.donor == 'Donor 3'"}], "mark": {"type": "line", "strokeWidth": 1.3, "interpolate": "cardinal", "tension": 0, "color": "#f7735f"}, "encoding": {}},
      {"transform": [{"filter": "datum.donor == 'Donor 1'"}], "mark": {"type": "point", "shape": "diamond", "filled": true, "size": 95, "strokeWidth": 1.3, "opacity": 1},
       "encoding": {
        "fill": {"field": "series", "type": "nominal", "scale": {"domain": ["Donor 1 Ctrl","Donor 1 Dex","Donor 2 Ctrl","Donor 2 Dex","Donor 3 Ctrl","Donor 3 Dex"], "range": ["#cfcfcf","#f9a283","#cfcfcf","#f9a283","#cfcfcf","#f78a78"]}, "legend": null},
        "stroke": {"field": "series", "type": "nominal", "scale": {"domain": ["Donor 1 Ctrl","Donor 1 Dex","Donor 2 Ctrl","Donor 2 Dex","Donor 3 Ctrl","Donor 3 Dex"], "range": ["#a3a3a3","#ff2a00","#a3a3a3","#ff2a00","#a3a3a3","#f2604c"]}, "legend": null}
       }},
      {"transform": [{"filter": "datum.donor == 'Donor 2'"}], "mark": {"type": "point", "shape": "square", "filled": true, "size": 75, "strokeWidth": 1.3, "opacity": 1},
       "encoding": {
        "fill": {"field": "series", "type": "nominal", "scale": {"domain": ["Donor 1 Ctrl","Donor 1 Dex","Donor 2 Ctrl","Donor 2 Dex","Donor 3 Ctrl","Donor 3 Dex"], "range": ["#cfcfcf","#f9a283","#cfcfcf","#f9a283","#cfcfcf","#f78a78"]}, "legend": null},
        "stroke": {"field": "series", "type": "nominal", "scale": {"domain": ["Donor 1 Ctrl","Donor 1 Dex","Donor 2 Ctrl","Donor 2 Dex","Donor 3 Ctrl","Donor 3 Dex"], "range": ["#a3a3a3","#ff2a00","#a3a3a3","#ff2a00","#a3a3a3","#f2604c"]}, "legend": null}
       }},
      {"transform": [{"filter": "datum.donor == 'Donor 3'"}], "mark": {"type": "point", "shape": "triangle-up", "filled": true, "size": 110, "strokeWidth": 1.3, "opacity": 1},
       "encoding": {
        "fill": {"field": "series", "type": "nominal", "scale": {"domain": ["Donor 1 Ctrl","Donor 1 Dex","Donor 2 Ctrl","Donor 2 Dex","Donor 3 Ctrl","Donor 3 Dex"], "range": ["#cfcfcf","#f9a283","#cfcfcf","#f9a283","#cfcfcf","#f78a78"]}, "legend": null},
        "stroke": {"field": "series", "type": "nominal", "scale": {"domain": ["Donor 1 Ctrl","Donor 1 Dex","Donor 2 Ctrl","Donor 2 Dex","Donor 3 Ctrl","Donor 3 Dex"], "range": ["#a3a3a3","#ff2a00","#a3a3a3","#ff2a00","#a3a3a3","#f2604c"]}, "legend": null}
       }}
     ]
    },
    {"data": {"name": "panels"}, "transform": [{"filter": "datum.p == 'B'"}],
     "layer": [
      {"mark": {"type": "text", "fontSize": 30, "fontWeight": "bold", "align": "left"}, "encoding": {"x": {"datum": -57, "type": "quantitative", "scale": {"domain": [0, 250]}, "axis": {"values": [0,50,100,150,200,250], "title": "Days in treatment", "labelPadding": 6, "titlePadding": 22}}, "y": {"datum": 685, "type": "quantitative", "scale": {"domain": [0, 600]}, "axis": {"values": [0,200,400,600], "labelExpr": "datum.value + '%'", "title": "Basal JATP-OxPhos / µm³ (% of control)", "titlePadding": 33}}, "text": {"field": "letter"}}},
      {"mark": {"type": "text", "fontSize": 25, "fontWeight": "bold"}, "encoding": {"x": {"datum": 125, "type": "quantitative", "scale": {"domain": [0, 250]}, "axis": {"values": [0,50,100,150,200,250], "title": "Days in treatment", "labelPadding": 6, "titlePadding": 22}}, "y": {"datum": 685, "type": "quantitative", "scale": {"domain": [0, 600]}, "axis": {"values": [0,200,400,600], "labelExpr": "datum.value + '%'", "title": "Basal JATP-OxPhos / µm³ (% of control)", "titlePadding": 33}}, "text": {"field": "title"}}}
     ]}
   ]
  },
  {
   "width": 368, "height": 466,
   "layer": [
    {
     "data": {"name": "pts"},
     "transform": [{"filter": "datum.p == 'B'"}],
     "encoding": {
      "x": {"field": "donor", "type": "nominal", "scale": {"domain": ["Donor 1","Donor 2","Donor 3"], "paddingInner": 0.25, "paddingOuter": 0.03}, "axis": {"title": null, "ticks": false, "tickSize": 0, "labelPadding": 56, "labelAngle": 0}},
      "xOffset": {"field": "treat", "type": "nominal", "scale": {"domain": ["Ctrl","Dex"], "paddingInner": 0.35, "paddingOuter": 0.175}}
     },
     "layer": [
      {"mark": {"type": "bar", "stroke": "#2b2b2b", "strokeWidth": 1.5},
       "encoding": {"y": {"aggregate": "mean", "field": "value", "type": "quantitative", "scale": {"domain": [0, 600]}, "axis": null},
        "fill": {"field": "treat", "type": "nominal", "scale": {"domain": ["Ctrl","Dex"], "range": ["#dcdcde","#f59e7e"]}, "legend": null}}},
      {"mark": {"type": "point", "shape": "circle", "filled": true, "size": 55, "strokeWidth": 1.5, "opacity": 1},
       "encoding": {"y": {"field": "value", "type": "quantitative", "scale": {"domain": [0, 600]}, "axis": null},
        "fill": {"field": "treat", "type": "nominal", "scale": {"domain": ["Ctrl","Dex"], "range": ["#dcdcde","#f59e7e"]}, "legend": null},
        "stroke": {"field": "treat", "type": "nominal", "scale": {"domain": ["Ctrl","Dex"], "range": ["#a0a0a0","#ff2a0a"]}, "legend": null}}},
      {"transform": [{"filter": "datum.treat == 'Dex'"}], "mark": {"type": "errorbar", "extent": "stderr", "ticks": {"size": 18}, "color": "#ff3a1a", "thickness": 1.5},
       "encoding": {"y": {"field": "value", "type": "quantitative", "scale": {"domain": [0, 600]}, "axis": null}}}
     ]
    },
    {"data": {"name": "ann"}, "transform": [{"filter": "datum.p == 'B'"}],
     "layer": [
      {"mark": {"type": "rule", "strokeWidth": 2, "color": "#111"}, "encoding": {"x": {"field": "donor", "type": "nominal", "bandPosition": 0, "scale": {"domain": ["Donor 1","Donor 2","Donor 3"]}, "axis": {"title": null, "ticks": false, "tickSize": 0, "labelPadding": 56, "labelAngle": 0}}, "x2": {"field": "donor", "bandPosition": 1}, "y": {"datum": 523, "type": "quantitative", "scale": {"domain": [0, 600]}, "axis": null}}},
      {"mark": {"type": "text", "fontSize": 22, "dy": -20}, "encoding": {"x": {"field": "donor", "type": "nominal", "scale": {"domain": ["Donor 1","Donor 2","Donor 3"]}, "axis": {"title": null, "ticks": false, "tickSize": 0, "labelPadding": 56, "labelAngle": 0}}, "y": {"datum": 523, "type": "quantitative", "scale": {"domain": [0, 600]}, "axis": null}, "text": {"field": "pct"}}},
      {"mark": {"type": "text", "fontSize": 22, "dy": -47}, "encoding": {"x": {"field": "donor", "type": "nominal", "scale": {"domain": ["Donor 1","Donor 2","Donor 3"]}, "axis": {"title": null, "ticks": false, "tickSize": 0, "labelPadding": 56, "labelAngle": 0}}, "y": {"datum": 523, "type": "quantitative", "scale": {"domain": [0, 600]}, "axis": null}, "text": {"field": "sig"}}}
     ]},
    {"data": {"name": "tot"}, "transform": [{"filter": "datum.p == 'B'"}],
     "layer": [
      {"mark": {"type": "rule", "strokeWidth": 2, "color": "#111"}, "encoding": {"x": {"datum": "Donor 1", "type": "nominal", "bandPosition": 0, "scale": {"domain": ["Donor 1","Donor 2","Donor 3"]}, "axis": {"title": null, "ticks": false, "tickSize": 0, "labelPadding": 56, "labelAngle": 0}}, "x2": {"datum": "Donor 3", "bandPosition": 1}, "y": {"datum": 633.7, "type": "quantitative", "scale": {"domain": [0, 600]}, "axis": null}}},
      {"mark": {"type": "text", "fontSize": 22, "fontWeight": "bold", "dy": -20}, "encoding": {"x": {"datum": "Donor 2", "type": "nominal", "scale": {"domain": ["Donor 1","Donor 2","Donor 3"]}, "axis": {"title": null, "ticks": false, "tickSize": 0, "labelPadding": 56, "labelAngle": 0}}, "y": {"datum": 633.7, "type": "quantitative", "scale": {"domain": [0, 600]}, "axis": null}, "text": {"field": "pct"}}},
      {"mark": {"type": "text", "fontSize": 22, "dy": -48}, "encoding": {"x": {"datum": "Donor 2", "type": "nominal", "scale": {"domain": ["Donor 1","Donor 2","Donor 3"]}, "axis": {"title": null, "ticks": false, "tickSize": 0, "labelPadding": 56, "labelAngle": 0}}, "y": {"datum": 633.7, "type": "quantitative", "scale": {"domain": [0, 600]}, "axis": null}, "text": {"field": "sig"}}}
     ]},
    {"data": {"name": "signs"}, "mark": {"type": "text", "fontSize": 27, "dy": 25},
     "encoding": {"x": {"field": "donor", "type": "nominal", "scale": {"domain": ["Donor 1","Donor 2","Donor 3"]}, "axis": {"title": null, "ticks": false, "tickSize": 0, "labelPadding": 56, "labelAngle": 0}}, "xOffset": {"field": "treat", "type": "nominal", "scale": {"domain": ["Ctrl","Dex"], "paddingInner": 0.35, "paddingOuter": 0.175}}, "y": {"datum": 0, "type": "quantitative", "scale": {"domain": [0, 600]}, "axis": null}, "text": {"field": "sign"}}},
    {"data": {"values": [{"label": "Dex"}]}, "mark": {"type": "text", "fontSize": 22, "align": "left", "dx": 10, "dy": 25},
     "encoding": {"x": {"datum": "Donor 3", "type": "nominal", "bandPosition": 1, "scale": {"domain": ["Donor 1","Donor 2","Donor 3"]}, "axis": {"title": null, "ticks": false, "tickSize": 0, "labelPadding": 56, "labelAngle": 0}}, "y": {"datum": 0, "type": "quantitative", "scale": {"domain": [0, 600]}, "axis": null}, "text": {"field": "label"}}}
   ]
  },
  {
   "width": 560, "height": 469,
   "resolve": {"scale": {"fill": "independent"}, "legend": {"fill": "independent"}},
   "layer": [
    {
     "data": {"name": "pts"},
     "transform": [{"filter": "datum.p == 'C' && datum.treat == 'Dex'"}],
     "mark": {"type": "area", "interpolate": "cardinal", "tension": 0, "blend": "multiply"},
     "encoding": {
      "x": {"field": "day", "type": "quantitative", "scale": {"domain": [0, 250]}, "axis": {"values": [0,50,100,150,200,250], "title": "Days in treatment", "labelPadding": 6, "titlePadding": 22}},
      "y": {"field": "value", "type": "quantitative", "scale": {"domain": [0, 500]}, "axis": {"values": [0,100,200,300,400,500], "labelExpr": "datum.value + '%'", "title": "Basal JATP-Total / µm³ (% of control)", "titlePadding": 33}},
      "y2": {"datum": 100},
      "detail": {"field": "donor", "type": "nominal"},
      "fill": {"datum": "Hypermetabolism", "type": "nominal", "scale": {"range": ["#fce2d8"]},
       "legend": {"title": null, "orient": "top-left", "offset": 0, "padding": 0, "symbolType": "M0.2,-1.1H6.4V1.1H0.2Z", "symbolSize": 400, "symbolStrokeColor": "#ff2200", "symbolStrokeWidth": 2, "labelFontSize": 22, "labelOffset": 65, "labelLimit": 400}}
     }
    },
    {
     "data": {"values": [{"mask": "below control"}]},
     "mark": {"type": "rect", "color": "white"},
     "encoding": {
      "x": {"datum": 3, "type": "quantitative", "scale": {"domain": [0, 250]}, "axis": {"values": [0,50,100,150,200,250], "title": "Days in treatment", "labelPadding": 6, "titlePadding": 22}},
      "x2": {"datum": 245},
      "y": {"datum": 5, "type": "quantitative", "scale": {"domain": [0, 500]}, "axis": {"values": [0,100,200,300,400,500], "labelExpr": "datum.value + '%'", "title": "Basal JATP-Total / µm³ (% of control)", "titlePadding": 33}},
      "y2": {"datum": 100}
     }
    },
    {
     "data": {"name": "pts"},
     "transform": [{"filter": "datum.p == 'C'"}],
     "encoding": {
      "x": {"field": "day", "type": "quantitative", "scale": {"domain": [0, 250]}, "axis": {"values": [0,50,100,150,200,250], "title": "Days in treatment", "labelPadding": 6, "titlePadding": 22}},
      "y": {"field": "value", "type": "quantitative", "scale": {"domain": [0, 500]}, "axis": {"values": [0,100,200,300,400,500], "labelExpr": "datum.value + '%'", "title": "Basal JATP-Total / µm³ (% of control)", "titlePadding": 33}}
     },
     "layer": [
      {"transform": [{"filter": "datum.treat == 'Ctrl'"}], "mark": {"type": "line", "strokeWidth": 1.5, "color": "#8c8c8c"}, "encoding": {"detail": {"field": "donor", "type": "nominal"}}},
      {"transform": [{"filter": "datum.treat == 'Dex' && datum.donor != 'Donor 3'"}], "mark": {"type": "line", "strokeWidth": 1.5, "interpolate": "cardinal", "tension": 0, "color": "#ff2a00"}, "encoding": {"detail": {"field": "donor", "type": "nominal"}}},
      {"transform": [{"filter": "datum.treat == 'Dex' && datum.donor == 'Donor 3'"}], "mark": {"type": "line", "strokeWidth": 1.3, "interpolate": "cardinal", "tension": 0, "color": "#f7735f"}, "encoding": {}},
      {"transform": [{"filter": "datum.donor == 'Donor 1'"}], "mark": {"type": "point", "shape": "diamond", "filled": true, "size": 95, "strokeWidth": 1.3, "opacity": 1},
       "encoding": {
        "fill": {"field": "series", "type": "nominal", "scale": {"domain": ["Donor 1 Ctrl","Donor 1 Dex","Donor 2 Ctrl","Donor 2 Dex","Donor 3 Ctrl","Donor 3 Dex"], "range": ["#cfcfcf","#f9a283","#cfcfcf","#f9a283","#cfcfcf","#f78a78"]}, "legend": null},
        "stroke": {"field": "series", "type": "nominal", "scale": {"domain": ["Donor 1 Ctrl","Donor 1 Dex","Donor 2 Ctrl","Donor 2 Dex","Donor 3 Ctrl","Donor 3 Dex"], "range": ["#a3a3a3","#ff2a00","#a3a3a3","#ff2a00","#a3a3a3","#f2604c"]}, "legend": null}
       }},
      {"transform": [{"filter": "datum.donor == 'Donor 2'"}], "mark": {"type": "point", "shape": "square", "filled": true, "size": 75, "strokeWidth": 1.3, "opacity": 1},
       "encoding": {
        "fill": {"field": "series", "type": "nominal", "scale": {"domain": ["Donor 1 Ctrl","Donor 1 Dex","Donor 2 Ctrl","Donor 2 Dex","Donor 3 Ctrl","Donor 3 Dex"], "range": ["#cfcfcf","#f9a283","#cfcfcf","#f9a283","#cfcfcf","#f78a78"]}, "legend": null},
        "stroke": {"field": "series", "type": "nominal", "scale": {"domain": ["Donor 1 Ctrl","Donor 1 Dex","Donor 2 Ctrl","Donor 2 Dex","Donor 3 Ctrl","Donor 3 Dex"], "range": ["#a3a3a3","#ff2a00","#a3a3a3","#ff2a00","#a3a3a3","#f2604c"]}, "legend": null}
       }},
      {"transform": [{"filter": "datum.donor == 'Donor 3'"}], "mark": {"type": "point", "shape": "triangle-up", "filled": true, "size": 110, "strokeWidth": 1.3, "opacity": 1},
       "encoding": {
        "fill": {"field": "series", "type": "nominal", "scale": {"domain": ["Donor 1 Ctrl","Donor 1 Dex","Donor 2 Ctrl","Donor 2 Dex","Donor 3 Ctrl","Donor 3 Dex"], "range": ["#cfcfcf","#f9a283","#cfcfcf","#f9a283","#cfcfcf","#f78a78"]}, "legend": null},
        "stroke": {"field": "series", "type": "nominal", "scale": {"domain": ["Donor 1 Ctrl","Donor 1 Dex","Donor 2 Ctrl","Donor 2 Dex","Donor 3 Ctrl","Donor 3 Dex"], "range": ["#a3a3a3","#ff2a00","#a3a3a3","#ff2a00","#a3a3a3","#f2604c"]}, "legend": null}
       }}
     ]
    },
    {"data": {"name": "panels"}, "transform": [{"filter": "datum.p == 'C'"}],
     "layer": [
      {"mark": {"type": "text", "fontSize": 30, "fontWeight": "bold", "align": "left"}, "encoding": {"x": {"datum": -57, "type": "quantitative", "scale": {"domain": [0, 250]}, "axis": {"values": [0,50,100,150,200,250], "title": "Days in treatment", "labelPadding": 6, "titlePadding": 22}}, "y": {"datum": 568, "type": "quantitative", "scale": {"domain": [0, 500]}, "axis": {"values": [0,100,200,300,400,500], "labelExpr": "datum.value + '%'", "title": "Basal JATP-Total / µm³ (% of control)", "titlePadding": 33}}, "text": {"field": "letter"}}},
      {"mark": {"type": "text", "fontSize": 25, "fontWeight": "bold"}, "encoding": {"x": {"datum": 125, "type": "quantitative", "scale": {"domain": [0, 250]}, "axis": {"values": [0,50,100,150,200,250], "title": "Days in treatment", "labelPadding": 6, "titlePadding": 22}}, "y": {"datum": 563, "type": "quantitative", "scale": {"domain": [0, 500]}, "axis": {"values": [0,100,200,300,400,500], "labelExpr": "datum.value + '%'", "title": "Basal JATP-Total / µm³ (% of control)", "titlePadding": 33}}, "text": {"field": "title"}}}
     ]}
   ]
  },
  {
   "width": 368, "height": 469,
   "layer": [
    {
     "data": {"name": "pts"},
     "transform": [{"filter": "datum.p == 'C'"}],
     "encoding": {
      "x": {"field": "donor", "type": "nominal", "scale": {"domain": ["Donor 1","Donor 2","Donor 3"], "paddingInner": 0.25, "paddingOuter": 0.03}, "axis": {"title": null, "ticks": false, "tickSize": 0, "labelPadding": 56, "labelAngle": 0}},
      "xOffset": {"field": "treat", "type": "nominal", "scale": {"domain": ["Ctrl","Dex"], "paddingInner": 0.35, "paddingOuter": 0.175}}
     },
     "layer": [
      {"mark": {"type": "bar", "stroke": "#2b2b2b", "strokeWidth": 1.5},
       "encoding": {"y": {"aggregate": "mean", "field": "value", "type": "quantitative", "scale": {"domain": [0, 500]}, "axis": null},
        "fill": {"field": "treat", "type": "nominal", "scale": {"domain": ["Ctrl","Dex"], "range": ["#dcdcde","#f59e7e"]}, "legend": null}}},
      {"mark": {"type": "point", "shape": "circle", "filled": true, "size": 55, "strokeWidth": 1.5, "opacity": 1},
       "encoding": {"y": {"field": "value", "type": "quantitative", "scale": {"domain": [0, 500]}, "axis": null},
        "fill": {"field": "treat", "type": "nominal", "scale": {"domain": ["Ctrl","Dex"], "range": ["#dcdcde","#f59e7e"]}, "legend": null},
        "stroke": {"field": "treat", "type": "nominal", "scale": {"domain": ["Ctrl","Dex"], "range": ["#a0a0a0","#ff2a0a"]}, "legend": null}}},
      {"transform": [{"filter": "datum.treat == 'Dex'"}], "mark": {"type": "errorbar", "extent": "stderr", "ticks": {"size": 18}, "color": "#ff3a1a", "thickness": 1.5},
       "encoding": {"y": {"field": "value", "type": "quantitative", "scale": {"domain": [0, 500]}, "axis": null}}}
     ]
    },
    {"data": {"name": "ann"}, "transform": [{"filter": "datum.p == 'C'"}],
     "layer": [
      {"mark": {"type": "rule", "strokeWidth": 2, "color": "#111"}, "encoding": {"x": {"field": "donor", "type": "nominal", "bandPosition": 0, "scale": {"domain": ["Donor 1","Donor 2","Donor 3"]}, "axis": {"title": null, "ticks": false, "tickSize": 0, "labelPadding": 56, "labelAngle": 0}}, "x2": {"field": "donor", "bandPosition": 1}, "y": {"datum": 427, "type": "quantitative", "scale": {"domain": [0, 500]}, "axis": null}}},
      {"mark": {"type": "text", "fontSize": 22, "dy": -20}, "encoding": {"x": {"field": "donor", "type": "nominal", "scale": {"domain": ["Donor 1","Donor 2","Donor 3"]}, "axis": {"title": null, "ticks": false, "tickSize": 0, "labelPadding": 56, "labelAngle": 0}}, "y": {"datum": 427, "type": "quantitative", "scale": {"domain": [0, 500]}, "axis": null}, "text": {"field": "pct"}}},
      {"mark": {"type": "text", "fontSize": 22, "dy": -47}, "encoding": {"x": {"field": "donor", "type": "nominal", "scale": {"domain": ["Donor 1","Donor 2","Donor 3"]}, "axis": {"title": null, "ticks": false, "tickSize": 0, "labelPadding": 56, "labelAngle": 0}}, "y": {"datum": 427, "type": "quantitative", "scale": {"domain": [0, 500]}, "axis": null}, "text": {"field": "sig"}}}
     ]},
    {"data": {"name": "tot"}, "transform": [{"filter": "datum.p == 'C'"}],
     "layer": [
      {"mark": {"type": "rule", "strokeWidth": 2, "color": "#111"}, "encoding": {"x": {"datum": "Donor 1", "type": "nominal", "bandPosition": 0, "scale": {"domain": ["Donor 1","Donor 2","Donor 3"]}, "axis": {"title": null, "ticks": false, "tickSize": 0, "labelPadding": 56, "labelAngle": 0}}, "x2": {"datum": "Donor 3", "bandPosition": 1}, "y": {"datum": 520.5, "type": "quantitative", "scale": {"domain": [0, 500]}, "axis": null}}},
      {"mark": {"type": "text", "fontSize": 22, "fontWeight": "bold", "dy": -20}, "encoding": {"x": {"datum": "Donor 2", "type": "nominal", "scale": {"domain": ["Donor 1","Donor 2","Donor 3"]}, "axis": {"title": null, "ticks": false, "tickSize": 0, "labelPadding": 56, "labelAngle": 0}}, "y": {"datum": 520.5, "type": "quantitative", "scale": {"domain": [0, 500]}, "axis": null}, "text": {"field": "pct"}}},
      {"mark": {"type": "text", "fontSize": 22, "dy": -48}, "encoding": {"x": {"datum": "Donor 2", "type": "nominal", "scale": {"domain": ["Donor 1","Donor 2","Donor 3"]}, "axis": {"title": null, "ticks": false, "tickSize": 0, "labelPadding": 56, "labelAngle": 0}}, "y": {"datum": 520.5, "type": "quantitative", "scale": {"domain": [0, 500]}, "axis": null}, "text": {"field": "sig"}}}
     ]},
    {"data": {"name": "signs"}, "mark": {"type": "text", "fontSize": 27, "dy": 25},
     "encoding": {"x": {"field": "donor", "type": "nominal", "scale": {"domain": ["Donor 1","Donor 2","Donor 3"]}, "axis": {"title": null, "ticks": false, "tickSize": 0, "labelPadding": 56, "labelAngle": 0}}, "xOffset": {"field": "treat", "type": "nominal", "scale": {"domain": ["Ctrl","Dex"], "paddingInner": 0.35, "paddingOuter": 0.175}}, "y": {"datum": 0, "type": "quantitative", "scale": {"domain": [0, 500]}, "axis": null}, "text": {"field": "sign"}}},
    {"data": {"values": [{"label": "Dex"}]}, "mark": {"type": "text", "fontSize": 22, "align": "left", "dx": 10, "dy": 25},
     "encoding": {"x": {"datum": "Donor 3", "type": "nominal", "bandPosition": 1, "scale": {"domain": ["Donor 1","Donor 2","Donor 3"]}, "axis": {"title": null, "ticks": false, "tickSize": 0, "labelPadding": 56, "labelAngle": 0}}, "y": {"datum": 0, "type": "quantitative", "scale": {"domain": [0, 500]}, "axis": null}, "text": {"field": "label"}}}
   ]
  }
 ]
}
